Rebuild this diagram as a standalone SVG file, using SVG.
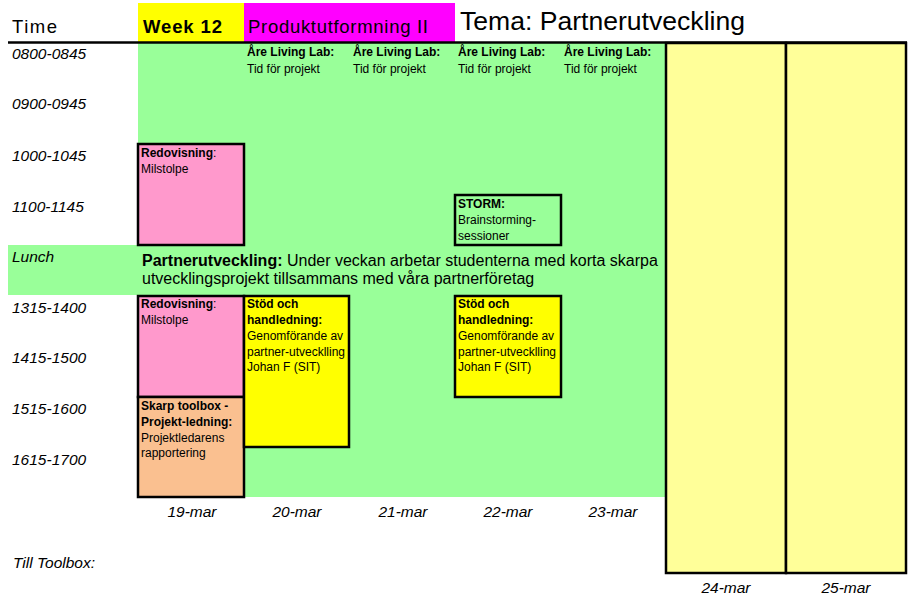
<svg xmlns="http://www.w3.org/2000/svg" width="909" height="600" viewBox="0 0 909 600">
<style>
text{font-family:"Liberation Sans",Arial,sans-serif;fill:#000}
.t{font-size:15.5px;font-style:italic}
.s{font-size:12px}
.b{font-weight:bold}
.h{font-size:18.5px}
.box{stroke:#000;stroke-width:2.5}
.d{font-size:15.5px;font-style:italic;text-anchor:middle}
</style>
<rect width="909" height="600" fill="#fff"/>
<g id="header">
<rect x="138" y="3" width="106" height="40" fill="#ffff00"/>
<rect x="244" y="3" width="211" height="40" fill="#ff00ff"/>
<text x="12" y="33" class="h" textLength="45" lengthAdjust="spacing">Time</text>
<text x="143" y="33" class="h b" textLength="79" lengthAdjust="spacing">Week 12</text>
<text x="248" y="33" class="h" textLength="180" lengthAdjust="spacing">Produktutformning II</text>
<text x="460" y="30" style="font-size:25px" textLength="285" lengthAdjust="spacingAndGlyphs">Tema: Partnerutveckling</text>
</g>
<g id="background">
<rect x="138" y="43" width="527" height="454" fill="#99ff99"/>
<rect x="8" y="245" width="657" height="50" fill="#99ff99"/>
<rect x="666" y="43" width="120" height="530" fill="#ffff99" class="box"/>
<rect x="786" y="43" width="120" height="530" fill="#ffff99" class="box"/>
<line x1="8" y1="42.5" x2="907" y2="42.5" stroke="#000" stroke-width="2.5"/>
</g>
<g id="times">
<text x="12" y="59" class="t">0800-0845</text>
<text x="12" y="109" class="t">0900-0945</text>
<text x="12" y="161" class="t">1000-1045</text>
<text x="12" y="212" class="t">1100-1145</text>
<text x="12" y="262" class="t">Lunch</text>
<text x="12" y="313" class="t">1315-1400</text>
<text x="12" y="363" class="t">1415-1500</text>
<text x="12" y="414" class="t">1515-1600</text>
<text x="12" y="465" class="t">1615-1700</text>
<text x="13" y="568" class="t">Till Toolbox:</text>
</g>
<g id="dates">
<text x="192" y="517" class="d">19-mar</text>
<text x="297" y="517" class="d">20-mar</text>
<text x="403" y="517" class="d">21-mar</text>
<text x="508" y="517" class="d">22-mar</text>
<text x="613" y="517" class="d">23-mar</text>
<text x="726" y="593" class="d">24-mar</text>
<text x="846" y="593" class="d">25-mar</text>
</g>
<g id="living-lab">
<text x="247" y="56" class="s b">Åre Living Lab:</text>
<text x="247" y="73" class="s">Tid för projekt</text>
<text x="353" y="56" class="s b">Åre Living Lab:</text>
<text x="353" y="73" class="s">Tid för projekt</text>
<text x="458" y="56" class="s b">Åre Living Lab:</text>
<text x="458" y="73" class="s">Tid för projekt</text>
<text x="564" y="56" class="s b">Åre Living Lab:</text>
<text x="564" y="73" class="s">Tid för projekt</text>
</g>
<g id="redovisning1">
<rect x="138" y="144" width="106" height="101" fill="#ff99cc" class="box"/>
<text x="141" y="157" class="s"><tspan class="b">Redovisning</tspan>:</text>
<text x="141" y="173" class="s">Milstolpe</text>
</g>
<g id="storm">
<rect x="455" y="195" width="106" height="50" fill="#99ff99" class="box"/>
<text x="458" y="208" class="s b">STORM:</text>
<text x="458" y="224" class="s">Brainstorming-</text>
<text x="458" y="240" class="s">sessioner</text>
</g>
<g id="partnerutveckling">
<text x="142" y="266" style="font-size:16px"><tspan class="b">Partnerutveckling:</tspan> Under veckan arbetar studenterna med korta skarpa</text>
<text x="142" y="284" style="font-size:16px">utvecklingsprojekt tillsammans med våra partnerföretag</text>
</g>
<g id="redovisning2">
<rect x="138" y="296" width="106" height="101" fill="#ff99cc" class="box"/>
<text x="141" y="308" class="s"><tspan class="b">Redovisning</tspan>:</text>
<text x="141" y="324" class="s">Milstolpe</text>
</g>
<g id="skarp-toolbox">
<rect x="138" y="397" width="106" height="100" fill="#fac090" class="box"/>
<text x="141" y="410" class="s b">Skarp toolbox -</text>
<text x="141" y="426" class="s b">Projekt-ledning:</text>
<text x="141" y="442" class="s">Projektledarens</text>
<text x="141" y="457" class="s">rapportering</text>
</g>
<g id="stod1">
<rect x="244" y="296" width="105" height="151" fill="#ffff00" class="box"/>
<text x="247" y="308" class="s b">Stöd och</text>
<text x="247" y="324" class="s b">handledning:</text>
<text x="247" y="340" class="s">Genomförande av</text>
<text x="247" y="356" class="s">partner-utvecklling</text>
<text x="247" y="371" class="s">Johan F (SIT)</text>
</g>
<g id="stod2">
<rect x="455" y="296" width="106" height="101" fill="#ffff00" class="box"/>
<text x="458" y="308" class="s b">Stöd och</text>
<text x="458" y="324" class="s b">handledning:</text>
<text x="458" y="340" class="s">Genomförande av</text>
<text x="458" y="356" class="s">partner-utvecklling</text>
<text x="458" y="371" class="s">Johan F (SIT)</text>
</g>
<g id="connectors"></g>
</svg>
